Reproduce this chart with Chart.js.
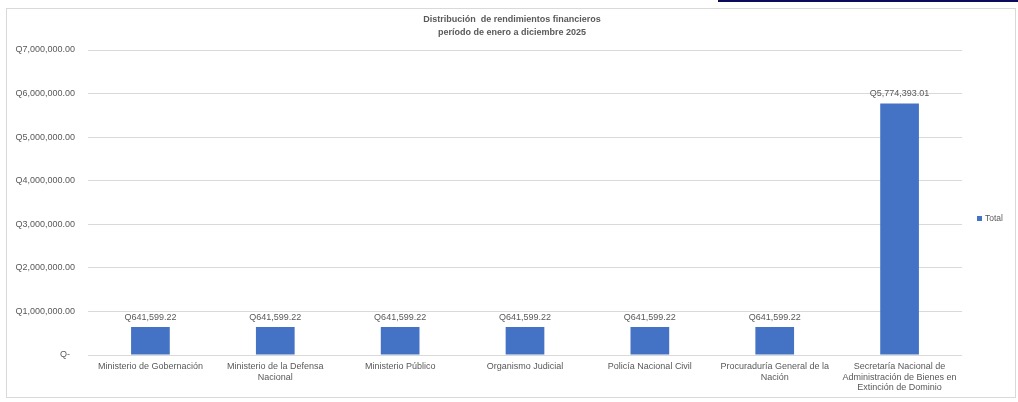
<!DOCTYPE html>
<html>
<head>
<meta charset="utf-8">
<script src="https://cdn.jsdelivr.net/npm/chart.js@4.4.1/dist/chart.umd.min.js"></script>
<style>
  html, body { margin: 0; padding: 0; background: #fff; }
  #wrap { position: relative; width: 1018px; height: 402px; }
  #frame { position: absolute; left: 6px; top: 8px; width: 1008px; height: 388px; border: 1px solid #d9d9d9; }
  #bar-top { position: absolute; left: 718px; top: 0; width: 300px; height: 2px; background: #0b0b5c; }
  canvas { position: absolute; left: 0; top: 0; }
</style>
</head>
<body>
<div id="wrap">
  <div id="frame"></div>
  <div id="bar-top"></div>
  <canvas id="chart" width="1018" height="402"></canvas>
</div>
<script>
// chart data
const categories = [
    ['Ministerio de Gobernación'],
    ['Ministerio de la Defensa', 'Nacional'],
    ['Ministerio Público'],
    ['Organismo Judicial'],
    ['Policía Nacional Civil'],
    ['Procuraduría General de la', 'Nación'],
    ['Secretaría Nacional de', 'Administración de Bienes en', 'Extinción de Dominio']
];
const totals = [641599.22, 641599.22, 641599.22, 641599.22, 641599.22, 641599.22, 5774393.01];
const titleLines = ['Distribución  de rendimientos financieros', 'período de enero a diciembre 2025'];
const seriesName = 'Total';
const yMax = 7000000;
const yStep = 1000000;

const textColor = '#595959';
const barColor = '#4472c4';
const fontFamily = '"Liberation Sans", Arial, sans-serif';

function money(v) {
    if (v === 0) return 'Q-  ';
    return 'Q' + v.toLocaleString('en-US', { minimumFractionDigits: 2, maximumFractionDigits: 2 });
}

// value labels, title and legend drawn on the canvas
const extras = {
    id: 'extras',
    afterDatasetsDraw(chart) {
        const ctx = chart.ctx;
        const meta = chart.getDatasetMeta(0);
        ctx.save();
        ctx.font = '9px ' + fontFamily;
        ctx.fillStyle = textColor;
        ctx.textAlign = 'center';
        ctx.textBaseline = 'middle';
        meta.data.forEach((bar, i) => {
            ctx.fillText(money(totals[i]), bar.x, bar.y - 10);
        });
        ctx.restore();
    },
    afterDraw(chart) {
        const ctx = chart.ctx;
        ctx.save();
        ctx.fillStyle = textColor;
        ctx.textAlign = 'center';
        ctx.textBaseline = 'middle';
        ctx.font = 'bold 9px ' + fontFamily;
        ctx.fillText(titleLines[0], 512, 20);
        ctx.fillText(titleLines[1], 512, 33);

        // legend
        ctx.fillStyle = barColor;
        ctx.fillRect(977, 216, 5, 5);
        ctx.fillStyle = textColor;
        ctx.textAlign = 'left';
        ctx.font = '8.5px ' + fontFamily;
        ctx.fillText(seriesName, 985, 219);
        ctx.restore();
    }
};

new Chart(document.getElementById('chart'), {
    type: 'bar',
    data: {
        labels: categories,
        datasets: [{
            label: seriesName,
            data: totals,
            backgroundColor: barColor,
            barPercentage: 0.31,
            categoryPercentage: 1
        }]
    },
    options: {
        responsive: false,
        animation: false,
        layout: { padding: { top: 50, right: 56, bottom: 0, left: 0 } },
        scales: {
            y: {
                min: 0,
                max: yMax,
                afterFit: (scale) => { scale.width = 88; },
                border: { display: false },
                grid: { color: '#d9d9d9', drawTicks: false },
                ticks: {
                    stepSize: yStep,
                    padding: 13,
                    color: textColor,
                    font: { family: fontFamily, size: 9 },
                    callback: (v) => money(v)
                }
            },
            x: {
                afterFit: (scale) => { scale.height = 47; },
                border: { display: false },
                grid: { display: false },
                ticks: {
                    autoSkip: false,
                    maxRotation: 0,
                    padding: -2,
                    color: textColor,
                    font: { family: fontFamily, size: 9, lineHeight: 1.2 }
                }
            }
        },
        plugins: {
            legend: { display: false },
            title: { display: false },
            tooltip: { enabled: false }
        }
    },
    plugins: [extras]
});
</script>
</body>
</html>
